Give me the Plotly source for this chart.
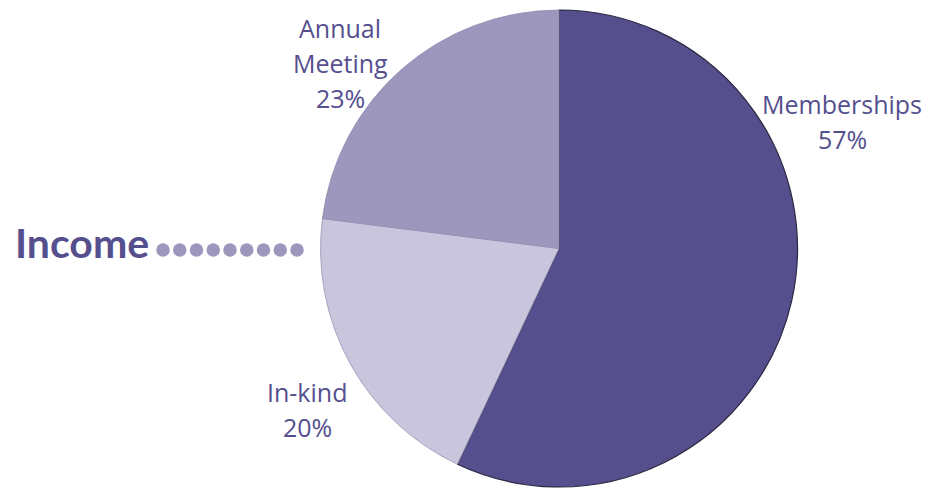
import plotly.graph_objects as go

# ---- data ----
labels = ["Memberships", "In-kind", "Annual Meeting"]
label_lines = [["Memberships"], ["In-kind"], ["Annual", "Meeting"]]
values = [57, 20, 23]
colors = ["#554F8E", "#C9C5DC", "#9D97BD"]
title_text = "Income"
n_dots = 9

# ---- layout constants (page pixels; body has an 8px margin) ----
OFF = 8
W, H = 930 - OFF, 489 - OFF
TOP, BOT = 2, 2
cx = 559 - OFF
half = 262
label_pos = [(842, 104), (307, 392), (340, 28)]  # centre of first line (page px)
line_gap = 35
text_color = "#554F8E"
label_font = "Open Sans, Noto Sans, sans-serif"

fig = go.Figure()

fig.add_trace(go.Pie(
    labels=labels,
    values=values,
    sort=False,
    direction="clockwise",
    rotation=0,
    textinfo="none",
    hoverinfo="label+percent",
    showlegend=False,
    marker=dict(colors=colors,
                line=dict(color=["#2b2740", "#8f89ad", "#8f89ad"], width=[1.2, 0.7, 0.7])),
    domain=dict(x=[(cx - half) / W, (cx + half) / W], y=[0, 1]),
))

# decorative dots after the title
dot_x = [163 - OFF + 16.75 * i for i in range(n_dots)]
fig.add_trace(go.Scatter(
    x=dot_x, y=[250 - OFF] * n_dots, mode="markers",
    marker=dict(size=13.5, color="#9D97BD"),
    hoverinfo="skip", showlegend=False,
))

annotations = []
total = sum(values)
for lines, v, (px, py) in zip(label_lines, values, label_pos):
    rows = lines + [f"{round(100 * v / total)}%"]
    for k, row in enumerate(rows):
        annotations.append(dict(
            x=px - OFF, y=py - OFF + k * line_gap, xref="x", yref="y",
            text=row, showarrow=False, xanchor="center", yanchor="middle",
            font=dict(family=label_font, size=25, color=text_color),
        ))

annotations.append(dict(
    x=13 - OFF, y=242 - OFF, xref="x", yref="y", text=f"<b>{title_text}</b>", showarrow=False,
    xanchor="left", yanchor="middle",
    font=dict(family="Lato, Open Sans, sans-serif", size=41, color=text_color),
))

fig.update_layout(
    width=W, height=H,
    margin=dict(l=0, r=0, t=TOP, b=BOT, pad=0),
    paper_bgcolor="white", plot_bgcolor="rgba(0,0,0,0)",
    xaxis=dict(range=[0, W], visible=False, fixedrange=True),
    yaxis=dict(range=[H - BOT, TOP], visible=False, fixedrange=True),
    annotations=annotations,
)

fig.write_html("out.html")
